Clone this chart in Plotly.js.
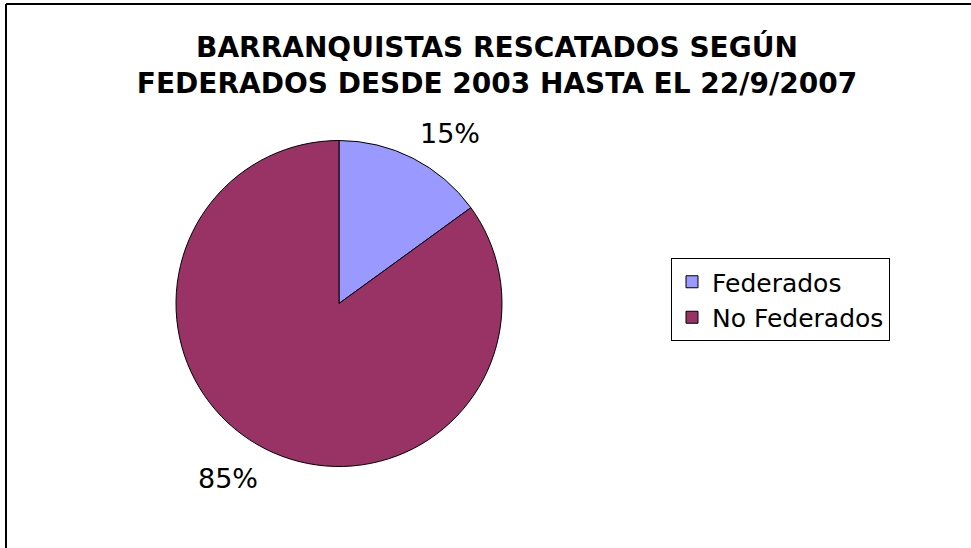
<!DOCTYPE html>
<html>
<head>
<meta charset="utf-8">
<script src="https://cdn.plot.ly/plotly-3.0.1.min.js"></script>
<style>html,body{margin:0;padding:0;background:#fff;}#chart{width:971px;height:548px;}</style>
</head>
<body>
<div id="chart"></div>
<script>
const categories = ["Federados", "No Federados"];
const values = [15, 85];
const colors = ["#9999FF", "#993366"];
const titleText = "BARRANQUISTAS RESCATADOS SEGÚN<br>FEDERADOS DESDE 2003 HASTA EL 22/9/2007";

const total = values.reduce((a, b) => a + b, 0);
const pctText = values.map(v => Math.round(v / total * 100) + "%");

const data = [{
  type: "pie",
  labels: categories,
  values: values,
  sort: false,
  direction: "clockwise",
  rotation: 0,
  marker: { colors: colors, line: { color: "#000", width: 1 } },
  textinfo: "none",
  hoverinfo: "label+percent",
  domain: { x: [176/971, 502/971], y: [1 - 467/548, 1 - 140/548] }
}];

const FONT = "DejaVu Sans, Verdana, sans-serif";

const layout = {
  width: 971, height: 548,
  margin: { l: 0, r: 0, t: 0, b: 0 },
  paper_bgcolor: "#fff",
  font: { family: FONT, color: "#000" },
  title: {
    text: titleText,
    font: { size: 28, family: FONT, weight: "bold", color: "#000" },
    x: 497/971, xanchor: "center", xref: "paper",
    y: 1 - 57/548, yanchor: "middle", yref: "paper"
  },
  showlegend: true,
  legend: {
    x: 671/971, xanchor: "left",
    y: 1 - 258/548, yanchor: "top",
    bordercolor: "#000", borderwidth: 1,
    bgcolor: "#fff",
    font: { size: 25, family: FONT, color: "#000" },
    traceorder: "normal"
  },
  annotations: [
    { text: pctText[0], x: 450/971, y: 1 - 133/548, xref: "paper", yref: "paper", showarrow: false,
      xanchor: "center", yanchor: "middle",
      font: { size: 27, family: FONT, color: "#000" } },
    { text: pctText[1], x: 228/971, y: 1 - 478/548, xref: "paper", yref: "paper", showarrow: false,
      xanchor: "center", yanchor: "middle",
      font: { size: 27, family: FONT, color: "#000" } }
  ],
  shapes: [
    { type: "line", xref: "paper", yref: "paper", x0: 6/971, x1: 1, y0: 1 - 4/548, y1: 1 - 4/548, line: { color: "#000", width: 2 } },
    { type: "line", xref: "paper", yref: "paper", x0: 6/971, x1: 6/971, y0: 0, y1: 1 - 4/548, line: { color: "#000", width: 2 } }
  ]
};

Plotly.newPlot("chart", data, layout, { displayModeBar: false, staticPlot: true });
</script>
</body>
</html>
